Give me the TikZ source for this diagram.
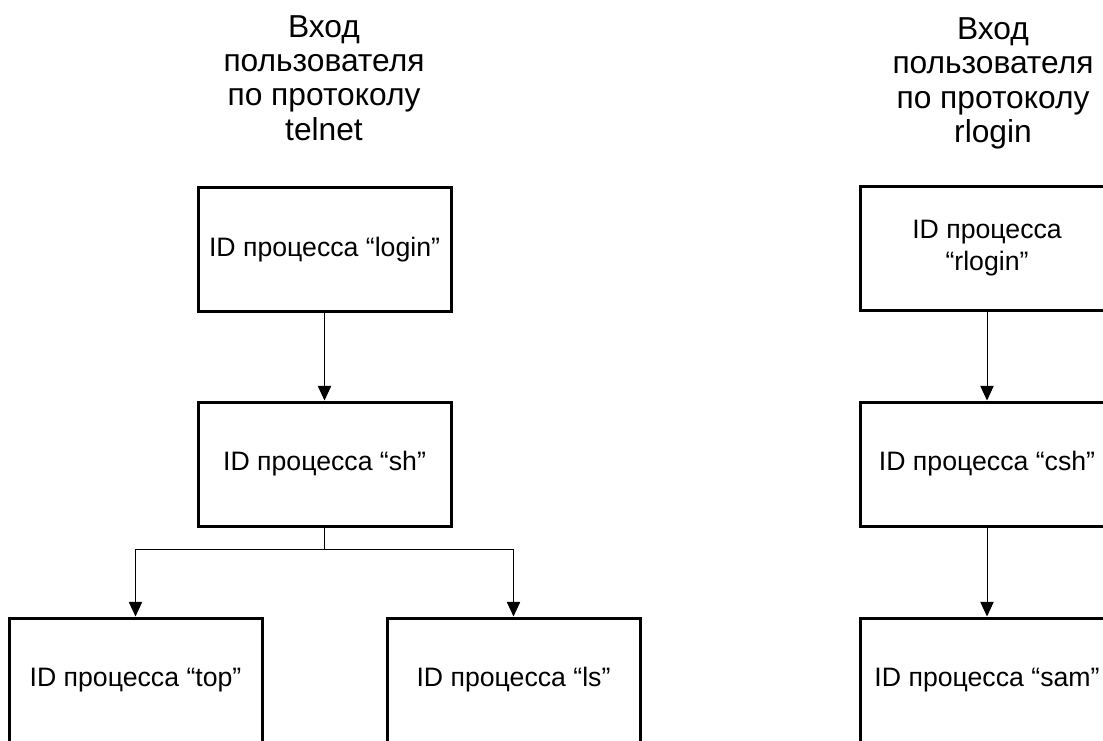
\documentclass[tikz,border=0pt]{standalone}
\usepackage{fontspec}
\setmainfont{Liberation Sans}
\usetikzlibrary{arrows.meta}
\begin{document}
\begin{tikzpicture}[x=0.75pt,y=-0.75pt,
  procbox/.style={draw=black,line width=2.25pt,fill=white,
    minimum width=189.75pt,minimum height=93pt,inner sep=0pt,
    align=center,font=\fontsize{20pt}{24pt}\selectfont},
  heading/.style={align=center,inner sep=0pt,anchor=base,
    font=\fontsize{23.8pt}{25.7pt}\selectfont},
  arr/.style={line width=0.75pt,-{Triangle[width=10pt,length=11pt]}},
  link/.style={line width=0.75pt}]
\useasboundingbox (0,0) rectangle (1103,740);
\clip (0,0) rectangle (1103,740);
\fill[white] (0,0) rectangle (1103,740);

% telnet session (heading placed by the baseline of its last line)
\node[heading] (ttl1) at (324,140) {Вход\\пользователя\\по протоколу\\telnet};
\node[procbox] (login) at (324.5,249.5) {ID процесса “login”};
\node[procbox] (sh) at (324.5,464) {ID процесса “sh”};
\node[procbox] (top) at (135.5,680) {ID процесса “top”};
\node[procbox] (ls) at (513.5,680) {ID процесса “ls”};
\coordinate (split) at (324.5,549);
\draw[arr] (login.south) -- (sh.north);
\draw[link] (sh.south) -- (split);
\draw[arr] (split) -| (top.north);
\draw[arr] (split) -| (ls.north);

% rlogin session
\node[heading] (ttl2) at (993,142.5) {Вход\\пользователя\\по протоколу\\rlogin};
\node[procbox] (rlogin) at (987,248.5) {ID процесса\\“rlogin”};
\node[procbox] (csh) at (987,464) {ID процесса “csh”};
\node[procbox] (sam) at (987,680) {ID процесса “sam”};
\draw[arr] (rlogin.south) -- (csh.north);
\draw[arr] (csh.south) -- (sam.north);
\end{tikzpicture}
\end{document}
